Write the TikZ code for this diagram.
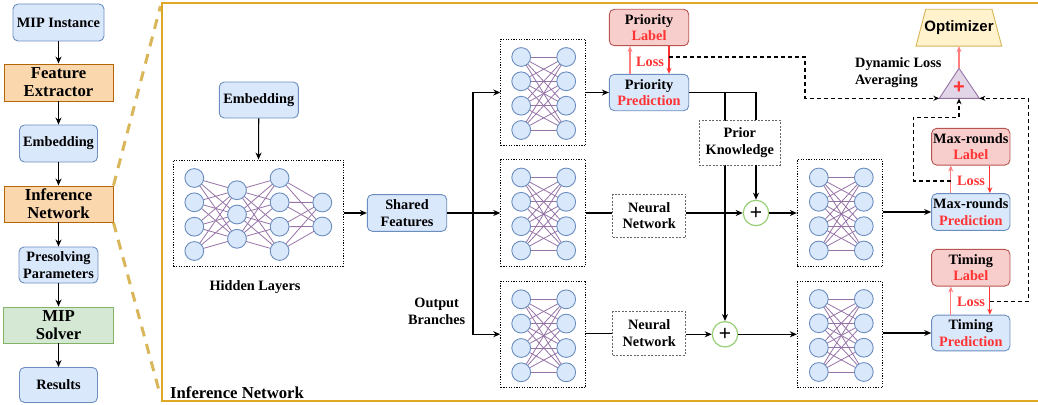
\documentclass[tikz,border=0pt]{standalone}
\usepackage{fontspec}
\setmainfont{Liberation Serif}
\newfontfamily\sansbf{Liberation Sans}
\usetikzlibrary{arrows.meta,shapes.geometric}
\pgfdeclarelayer{background}
\pgfsetlayers{background,main}
\definecolor{bluefill}{HTML}{DAE8FC}
\definecolor{blueline}{HTML}{6C8EBF}
\definecolor{redfill}{HTML}{F8CECC}
\definecolor{redline}{HTML}{B85450}
\definecolor{orangefill}{HTML}{FAD7AC}
\definecolor{orangeline}{HTML}{B46504}
\definecolor{greenfill}{HTML}{D5E8D4}
\definecolor{greenline}{HTML}{82B366}
\definecolor{purplefill}{HTML}{E1D5E7}
\definecolor{purpleline}{HTML}{9673A6}
\definecolor{yellowfill}{HTML}{FFF2CC}
\definecolor{yellowline}{HTML}{D6B656}
\definecolor{redtxt}{HTML}{FF3333}
\definecolor{pinkline}{HTML}{FF7F7F}
\definecolor{framegold}{HTML}{DEA724}
\definecolor{dashgold}{HTML}{D9B65A}
\definecolor{plusgreen}{HTML}{97D077}
\definecolor{boxgray}{HTML}{666666}
\begin{document}
\begin{tikzpicture}[x=1pt,y=-1pt,
  base/.style={font=\fontsize{14.3}{16.7}\selectfont\bfseries, align=center, inner sep=1pt, line width=0.9pt},
  big/.style={font=\fontsize{16.7}{20}\selectfont\bfseries},
  sz/.style 2 args={minimum width=#1pt, minimum height=#2pt},
  bluebox/.style={base, draw=blueline, fill=bluefill, rounded corners=5pt},
  redbox/.style={base, draw=redline, fill=redfill, rounded corners=5pt},
  orangebox/.style={base, big, draw=orangeline, fill=orangefill},
  greenbox/.style={base, big, draw=greenline, fill=greenfill},
  graybox/.style={base, draw=boxgray, fill=white, dash pattern=on 2pt off 1.5pt, line width=0.8pt},
  netbox/.style={draw, dash pattern=on 1.2pt off 1.4pt, line width=0.9pt, inner sep=0pt},
  plusnode/.style={circle, draw=plusgreen, line width=1.2pt, fill=white, minimum size=25.4pt, inner sep=0pt, font=\sansbf\fontsize{21}{21}\selectfont},
  plaintxt/.style={font=\fontsize{14.3}{16.7}\selectfont\bfseries, align=center, inner sep=0pt},
  losstxt/.style={font=\fontsize{14.3}{16.7}\selectfont\bfseries, text=redtxt, inner sep=0pt},
  conn/.style={line width=1.1pt},
  arr/.style={line width=1.1pt, -{Stealth[length=7pt,width=6pt]}},
  redarr/.style={line width=1.1pt, draw=redtxt, -{Stealth[length=6pt,width=5pt]}},
  pinkarr/.style={line width=1.1pt, draw=pinkline, -{Stealth[length=6pt,width=5pt]}},
  dashconn/.style={line width=1.1pt, dash pattern=on 4pt off 3pt, -{Stealth[length=6pt,width=5pt]}},
  goldash/.style={line width=3pt, draw=dashgold, dash pattern=on 10pt off 8pt},
  netedge/.style={draw=purpleline, line width=0.8pt},
  neuron/.style={draw=blueline, fill=bluefill, line width=0.9pt},
  smallnet/.pic={
    \foreach \ya in {-36.5,-12.2,12.2,36.5}{
      \foreach \yb in {-36.5,-12.2,12.2,36.5}{
        \draw[netedge] (-22.5,\ya) -- (22.5,\yb);
      }
    }
    \foreach \ya in {-36.5,-12.2,12.2,36.5}{
      \draw[neuron] (-22.5,\ya) circle[radius=9.4pt];
      \draw[neuron] (22.5,\ya) circle[radius=9.4pt];
    }
  },
  hidnet/.pic={
    \foreach \ya in {-36.5,-12.2,12.2,36.5}{
      \foreach \yb in {-24.3,0,24.3}{
        \draw[netedge] (-64,\ya) -- (-21.3,\yb);
        \draw[netedge] (-21.3,\yb) -- (21.3,\ya);
      }
      \foreach \yb in {-12,12}{
        \draw[netedge] (21.3,\ya) -- (64,\yb);
      }
    }
    \foreach \ya in {-36.5,-12.2,12.2,36.5}{
      \draw[neuron] (-64,\ya) circle[radius=9.4pt];
      \draw[neuron] (21.3,\ya) circle[radius=9.4pt];
    }
    \foreach \ya in {-24.3,0,24.3}{
      \draw[neuron] (-21.3,\ya) circle[radius=9.4pt];
    }
    \foreach \ya in {-12,12}{
      \draw[neuron] (64,\ya) circle[radius=9.4pt];
    }
  }
]
\useasboundingbox (0,0) rectangle (1038,404);

% ---------- left column ----------
\node[bluebox, sz={91}{37}] (mip) at (58.5,22.5) {MIP Instance};
\node[orangebox, sz={109}{37}] (fe) at (58.5,82.5) {Feature\\[-2pt]Extractor};
\node[bluebox, sz={78}{37}] (emb1) at (58.5,143.5) {Embedding};
\node[orangebox, sz={109}{36}] (inf) at (58.5,204) {Inference\\[-2pt]Network};
\node[bluebox, sz={79}{36}] (pres) at (58.5,265) {Presolving\\Parameters};
\node[greenbox, sz={110}{36}] (solv) at (58.5,325) {MIP\\[-2pt]Solver};
\node[bluebox, sz={78}{35}] (res) at (58.5,385) {Results};
\draw[arr] (mip) -- (fe);
\draw[arr] (fe) -- (emb1);
\draw[arr] (emb1) -- (inf);
\draw[arr] (inf) -- (pres);
\draw[arr] (pres) -- (solv);
\draw[arr] (solv) -- (res);

% ---------- frame ----------
\coordinate (fTL) at (160.5,6);
\coordinate (fBL) at (160.5,396);
\draw[goldash] (inf.north east) -- (fTL);
\draw[goldash] (inf.south east) -- (fBL);
\draw[draw=framegold, line width=2pt] (1045,3.5) -- (162,3.5) -- (162,401) -- (1045,401);
\node[plaintxt, big, anchor=west] (inflabel) at (170,393) {Inference Network};

% ---------- hidden layers ----------
\node[bluebox, sz={79}{36}] (emb2) at (258.8,100) {Embedding};
\node[netbox, sz={170}{106}] (hid) at (258.3,213) {};
\pic at (258.3,214.5) {hidnet};
\node[plaintxt] (hidtxt) at (255,287) {Hidden Layers};
\draw[arr] (emb2) -- (hid);
\node[bluebox, sz={79.4}{36.7}] (sf) at (407,213) {Shared\\Features};
\draw[arr] (hid.east |- sf.west) -- (sf.west);
\node[plaintxt] (outtxt) at (436.7,311) {Output\\Branches};

% ---------- branch nets ----------
\node[netbox, sz={85}{106.4}] (nn1) at (543.2,92.5) {};
\node[netbox, sz={85}{106.4}] (nn2) at (543.2,213) {};
\node[netbox, sz={85}{106.4}] (nn3) at (543.2,334.2) {};
\pic at (543.7,93.5) {smallnet};
\pic at (543.7,214) {smallnet};
\pic at (543.7,335.8) {smallnet};
\coordinate (br) at (473,213);
\draw[arr] (sf.east) -- (br) -- (nn2.west);
\draw[arr] (br) |- (nn1.west);
\draw[arr] (br) |- (nn3.west);

% ---------- priority ----------
\node[bluebox, sz={79.4}{36.4}] (pp) at (649,92.5) {Priority\\{\color{redtxt}Prediction}};
\node[redbox, sz={79.4}{36.4}] (pl) at (649,27.5) {Priority\\{\color{redtxt}Label}};
\draw[arr] (nn1.east) -- (pp.west);
\draw[pinkarr] ([xshift=-19pt]pp.north) -- ([xshift=-19pt]pl.south);
\draw[redarr] ([xshift=20pt]pl.south) -- ([xshift=20pt]pp.north);
\node[losstxt] (loss1) at (650,61.7) {Loss};

% ---------- prior knowledge and sums ----------
\node[graybox, sz={81.7}{44.3}] (pk) at (739.8,142.8) {Prior\\Knowledge};
\node[graybox, sz={73}{43.3}] (nnA) at (649.2,215.7) {Neural\\Network};
\node[graybox, sz={73}{43.3}] (nnB) at (649.2,333.3) {Neural\\Network};
\node[plusnode] (p1) at (756,213) {+};
\node[plusnode] (p2) at (725,334.3) {+};
\coordinate (k1) at (756,92.5);
\coordinate (k2) at (725,92.5);
\begin{pgfonlayer}{background}
\draw[arr] (k2) -- (p2.north);
\end{pgfonlayer}
\draw[conn] (pp.east) -- (k1) -- (k1 |- pk.north);
\draw[arr] (k1 |- pk.south) -- (p1.north);
\draw[conn] (nn2.east) -- (nnA.west |- nn2.east);
\draw[arr] (nnA.east |- p1.west) -- (p1.west);
\draw[conn] (nn3.east |- nnB.west) -- (nnB.west);
\draw[arr] (nnB.east |- p2.west) -- (p2.west);

% ---------- right nets ----------
\node[netbox, sz={85.4}{106.7}] (nn4) at (840,213) {};
\node[netbox, sz={85.4}{105.6}] (nn5) at (840,334.5) {};
\pic at (841.3,214) {smallnet};
\pic at (841.3,335.5) {smallnet};
\draw[arr] (p1.east) -- (nn4.west |- p1.east);
\draw[arr] (p2.east) -- (nn5.west |- p2.east);

% ---------- max-rounds / timing ----------
\node[bluebox, sz={78.3}{36.7}] (mp) at (970.8,212) {Max-rounds\\{\color{redtxt}Prediction}};
\node[redbox, sz={78.3}{36.7}] (ml) at (970.8,146.7) {Max-rounds\\{\color{redtxt}Label}};
\node[redbox, sz={78.3}{36.7}] (tl) at (970.8,267.7) {Timing\\{\color{redtxt}Label}};
\node[bluebox, sz={78.3}{35.7}] (tp) at (970.8,333) {Timing\\{\color{redtxt}Prediction}};
\draw[arr] (nn4.east |- mp.west) -- (mp.west);
\draw[arr] (nn5.east |- tp.west) -- (tp.west);
\draw[pinkarr] ([xshift=-20pt]mp.north) -- ([xshift=-20pt]ml.south);
\draw[redarr] ([xshift=19pt]ml.south) -- ([xshift=19pt]mp.north);
\node[losstxt] (loss2) at (971,180.7) {Loss};
\draw[pinkarr] ([xshift=-20pt]tp.north) -- ([xshift=-20pt]tl.south);
\draw[redarr] ([xshift=19pt]tl.south) -- ([xshift=19pt]tp.north);
\node[losstxt] (loss3) at (971,301.7) {Loss};

% ---------- loss averaging ----------
\coordinate (triT) at (959,68.3);
\coordinate (triL) at (939.3,98.3);
\coordinate (triR) at (979.3,98.3);
\coordinate (triB) at (959,98.3);
\draw[draw=purpleline, fill=purplefill, line width=0.9pt] (triT) -- (triR) -- (triL) -- cycle;
\node[font=\sansbf\fontsize{20}{20}\selectfont\bfseries, text=redtxt, inner sep=0pt] (triplus) at (959,87.5) {+};
\coordinate (oTL) at (925.7,9.3);
\coordinate (oTR) at (992,9.3);
\coordinate (oBR) at (1001.7,46.2);
\coordinate (oBL) at (916,46.2);
\draw[draw=yellowline, fill=yellowfill, line width=0.9pt] (oTL) -- (oTR) -- (oBR) -- (oBL) -- cycle;
\node[font=\sansbf\fontsize{15}{17}\selectfont\bfseries, inner sep=0pt] (opt) at (959,27.7) {Optimizer};
\coordinate (optB) at (959,46.2);
\draw[pinkarr] (triT) -- (optB);
\node[plaintxt, align=left, anchor=west] (dla) at (855,72.5) {Dynamic Loss\\Averaging};

\coordinate (d1) at (669,57);
\coordinate (d2) at (950.5,181);
\coordinate (d3) at (989.8,301.7);
\draw[dashconn] (d1) -- (805,57) -- (805,98.3) -- (triL);
\draw[dashconn] (d2) -- (913.3,181) -- (913.3,117.3) -- (959,117.3) -- (triB);
\draw[dashconn] (d3) -- (1028.3,301.7) -- (1028.3,98.3) -- (triR);
\end{tikzpicture}
\end{document}
